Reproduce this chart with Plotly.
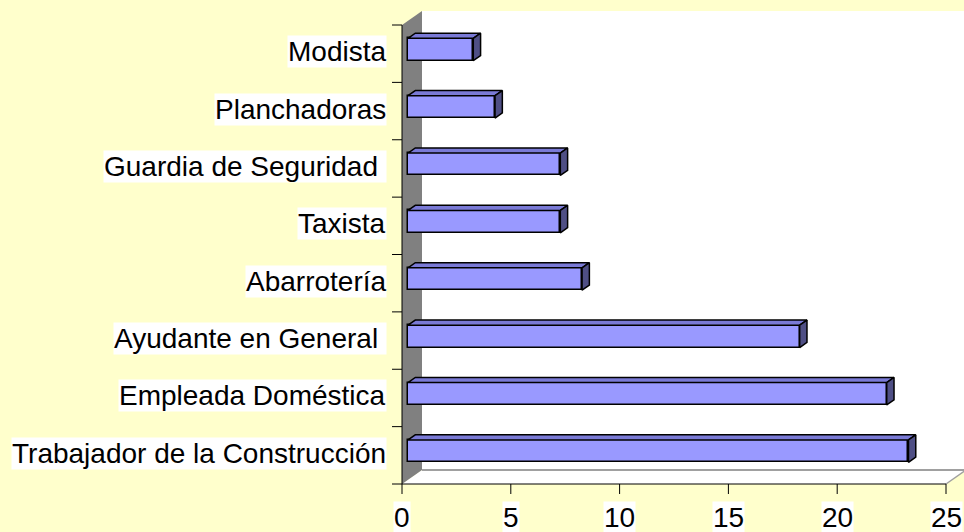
import plotly.graph_objects as go

# ---- data (bottom to top) ----
categories = ["Trabajador de la Construcción", "Empleada Doméstica", "Ayudante en General\u00a0",
              "Abarrotería", "Taxista", "Guardia de Seguridad\u00a0", "Planchadoras", "Modista"]
values = [23, 22, 18, 8, 7, 7, 4, 3]
x_ticks = [0, 5, 10, 15, 20, 25]
x_tick_labels = ["0", "5", "10", "15", "20", "25"]

# ---- geometry (pixel calibration) ----
W, H = 964, 532
X0_PX = 402.0          # pixel of value 0 on front plane
PX_PER_X = 21.76       # pixels per value unit
FRONT_BOTTOM_PX = 484.0
PX_PER_U = 57.375      # pixels per category
N = len(categories)
XMAX = x_ticks[-1]

DX = 20 / PX_PER_X     # depth offset in x data units
DU = 14 / PX_PER_U     # depth offset in category units
BAR_D0, BAR_D1 = 0.30, 0.665   # bar depth fractions
BAR_H = 0.39

x_range = [-X0_PX / PX_PER_X, (W - X0_PX) / PX_PER_X]
u_range = [-0.5 - (H - FRONT_BOTTOM_PX) / PX_PER_U, -0.5 + FRONT_BOTTOM_PX / PX_PER_U]

FONT = "Liberation Sans, Arial, sans-serif"
FS = 28
BAR_FRONT = "#9999FF"
BAR_TOP = "#7A7AD6"
BAR_SIDE = "#4F4F85"

fig = go.Figure()

# ---- 3D frame (walls/floor) ----
shapes = []
# back plane
shapes.append(dict(type="rect", xref="x", yref="y", layer="below",
                   x0=DX, x1=x_range[1] + 2, y0=-0.5 + DU, y1=N - 0.5 + DU,
                   fillcolor="white", line=dict(width=0)))
# floor
shapes.append(dict(type="path", xref="x", yref="y", layer="below",
                   path=f"M 0,-0.5 L {XMAX},-0.5 L {XMAX + DX},{-0.5 + DU} L {DX},{-0.5 + DU} Z",
                   fillcolor="white", line=dict(width=0)))
# floor back edge & right edge
shapes.append(dict(type="line", xref="x", yref="y", layer="below",
                   x0=DX, x1=x_range[1] + 2, y0=-0.5 + DU, y1=-0.5 + DU,
                   line=dict(color="#A0A0A0", width=2)))
shapes.append(dict(type="line", xref="x", yref="y", layer="below",
                   x0=XMAX, x1=XMAX + DX, y0=-0.5, y1=-0.5 + DU,
                   line=dict(color="#A0A0A0", width=1.5)))
# left wall
shapes.append(dict(type="path", xref="x", yref="y", layer="below",
                   path=f"M 0,-0.5 L 0,{N - 0.5} L {DX},{N - 0.5 + DU} L {DX},{-0.5 + DU} Z",
                   fillcolor="#808080", line=dict(width=0)))
# axis lines
shapes.append(dict(type="line", xref="x", yref="y", x0=0, x1=0, y0=-0.5, y1=N - 0.5,
                   line=dict(color="black", width=1)))
shapes.append(dict(type="line", xref="x", yref="y", x0=0, x1=XMAX, y0=-0.5, y1=-0.5,
                   line=dict(color="black", width=1)))
# ticks
TICK_PX = 10
for k in range(N + 1):
    shapes.append(dict(type="line", xref="x", yref="y", x0=-TICK_PX / PX_PER_X, x1=0,
                       y0=k - 0.5, y1=k - 0.5, line=dict(color="black", width=1)))
for t in x_ticks:
    shapes.append(dict(type="line", xref="x", yref="y", x0=t, x1=t,
                       y0=-0.5, y1=-0.5 - TICK_PX / PX_PER_U, line=dict(color="black", width=1)))

# ---- bars: front faces ----
ys = list(range(N))
fig.add_trace(go.Bar(
    orientation="h", y=[i + BAR_D0 * DU for i in ys], x=values,
    base=[BAR_D0 * DX] * N, width=BAR_H,
    marker=dict(color=BAR_FRONT, line=dict(color="black", width=1.5)),
    hoverinfo="skip", showlegend=False))

# top and side faces
ddx = (BAR_D1 - BAR_D0) * DX
ddu = (BAR_D1 - BAR_D0) * DU
top_x, top_y, side_x, side_y = [], [], [], []
for i, v in zip(ys, values):
    x0 = BAR_D0 * DX
    x1 = BAR_D0 * DX + v
    yt = i + BAR_D0 * DU + BAR_H / 2
    yb = i + BAR_D0 * DU - BAR_H / 2
    top_x += [x0, x1, x1 + ddx, x0 + ddx, x0, None]
    top_y += [yt, yt, yt + ddu, yt + ddu, yt, None]
    side_x += [x1, x1 + ddx, x1 + ddx, x1, x1, None]
    side_y += [yt, yt + ddu, yb + ddu, yb, yt, None]
fig.add_trace(go.Scatter(x=top_x, y=top_y, mode="lines", fill="toself", fillcolor=BAR_TOP,
                         line=dict(color="black", width=1.5), hoverinfo="skip", showlegend=False))
fig.add_trace(go.Scatter(x=side_x, y=side_y, mode="lines", fill="toself", fillcolor=BAR_SIDE,
                         line=dict(color="black", width=1.5), hoverinfo="skip", showlegend=False))

# ---- labels ----
annotations = []
for i, c in enumerate(categories):
    annotations.append(dict(x=0, y=i, xref="x", yref="y", text=c, showarrow=False,
                            xanchor="right", yanchor="middle", xshift=-15, yshift=2,
                            bgcolor="white", borderpad=0,
                            font=dict(family=FONT, size=FS, color="black")))
for t, lab in zip(x_ticks, x_tick_labels):
    annotations.append(dict(x=t, y=-0.5, xref="x", yref="y", text=lab, showarrow=False,
                            xanchor="center", yanchor="middle", yshift=-33,
                            bgcolor="white", borderpad=0,
                            font=dict(family=FONT, size=FS, color="black")))

fig.update_layout(
    width=W, height=H, margin=dict(l=0, r=0, t=0, b=0),
    paper_bgcolor="#FFFFCC", plot_bgcolor="rgba(0,0,0,0)",
    xaxis=dict(range=x_range, visible=False, fixedrange=True),
    yaxis=dict(range=u_range, visible=False, fixedrange=True),
    shapes=shapes, annotations=annotations, bargap=0,
)

fig.write_html("out.html", config={"displayModeBar": False},
               post_script="document.body.style.margin='0';document.body.style.overflow='hidden';")
